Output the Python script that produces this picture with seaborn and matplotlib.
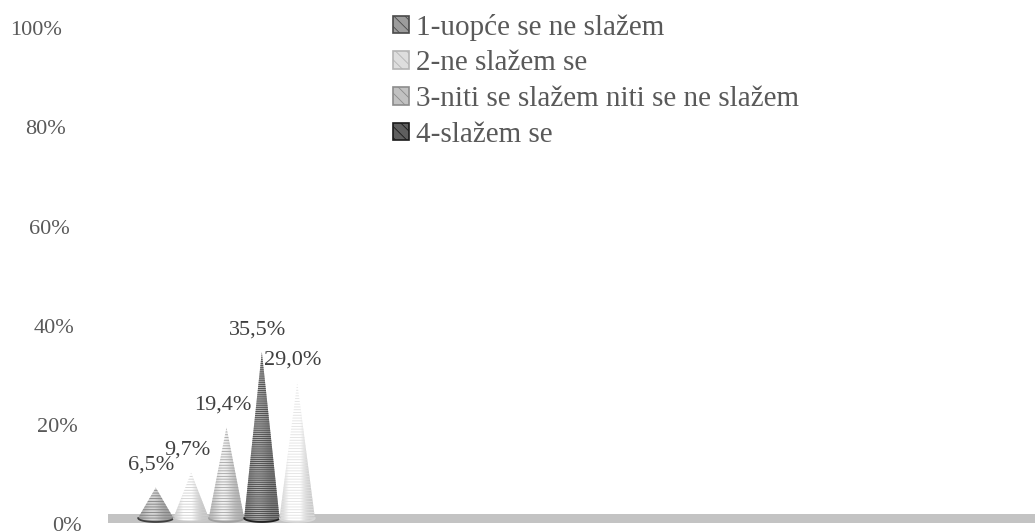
import numpy as np
import pandas as pd
import seaborn as sns
import matplotlib.pyplot as plt
from matplotlib.patches import Polygon, Patch
from matplotlib.transforms import ScaledTranslation

# -----------------------------
# Data
# -----------------------------
answers = [
    "1-uopće se ne slažem",
    "2-ne slažem se",
    "3-niti se slažem niti se ne slažem",
    "4-slažem se",
    "5-u potpunosti se slažem",
]
shares = [6.5, 9.7, 19.4, 35.5, 29.0]
y_ticks = [0, 20, 40, 60, 80, 100]

# grey tones of the cones (0 = black, 1 = white) and their stripe colours
cone_tones = [0.76, 0.95, 0.86, 0.62, 0.98]
stripe_colors = ["#808080", "#d0d0d0", "#a4a4a4", "#454545", "#e2e2e2"]
rim_colors = ["#404040", "#c8c8c8", "#a0a0a0", "#202020", "#d8d8d8"]
legend_faces = ["#9c9c9c", "#dedede", "#c2c2c2", "#5e5e5e"]
legend_edges = ["#4a4a4a", "#b4b4b4", "#8c8c8c", "#1a1a1a"]

df = pd.DataFrame({"group": [""] * len(answers), "answer": answers, "share": shares})

# -----------------------------
# Plot
# -----------------------------
sns.set_style("white")
plt.rcParams["font.family"] = ["Liberation Serif", "DejaVu Serif"]
plt.rcParams["hatch.linewidth"] = 0.6

fig = plt.figure(figsize=(10.35, 5.31), dpi=100)
rect = [108 / 1035, 0.0, 927 / 1035, 1.0]

# back wall (carries the % labels, slightly different scale than the cones)
wall = fig.add_axes(rect)
wall.set_ylim(-0.9, 106.2)
wall.axis("off")

ax = fig.add_axes(rect)
ax.patch.set_alpha(0)
sns.barplot(data=df, x="group", y="share", hue="answer", hue_order=answers,
            ax=ax, legend=False, width=0.8)
bars = [c[0] for c in ax.containers]

# floor
ax.axhspan(-1.07, 0.85, color="#c3c3c3", zorder=0.5, linewidth=0)

# turn each bar into a shaded cone
for i, bar in enumerate(bars):
    x0, w, h = bar.get_x(), bar.get_width(), bar.get_height()
    cx = x0 + w / 2
    bar.set_visible(False)

    t = np.linspace(0, 1, 60)
    arc_x = x0 + w * t
    arc_y = -0.85 * np.sqrt(np.clip(1 - (2 * t - 1) ** 2, 0, None))
    verts = [(cx, h)] + list(zip(arc_x, arc_y))

    cone = Polygon(verts, closed=True, facecolor="none", edgecolor="none", zorder=2)
    ax.add_patch(cone)
    shade = cone_tones[i] * (0.80 + 0.30 * np.exp(-((t - 0.40) / 0.28) ** 2))
    img = ax.imshow(np.clip(shade, 0, 1)[None, :], cmap="gray", vmin=0, vmax=1,
                    extent=(x0, x0 + w, -1, h), aspect="auto", zorder=2,
                    interpolation="bilinear")
    img.set_clip_path(cone)

    stripes = Polygon(verts, closed=True, facecolor="none", edgecolor=stripe_colors[i],
                      linewidth=0, hatch="------" if i != 3 else "--------", zorder=3)
    ax.add_patch(stripes)
    ax.plot(arc_x, arc_y, color=rim_colors[i], linewidth=1.3, zorder=3)

    label = f"{shares[i]:.1f}%".replace(".", ",")
    ax.annotate(label, (cx, h), xytext=(-3, 16), textcoords="offset points",
                ha="center", va="center", fontsize=16, color="#404040", zorder=5)

ax.set_xlim(-0.536, 3.658)
ax.set_ylim(-2.78, 110.7)
ax.set_xlabel("")
ax.set_ylabel("")
ax.set_xticks([])
ax.set_yticks([])
sns.despine(ax=ax, left=True, bottom=True)

# y tick labels, slanted like the 3D wall
for v in y_ticks:
    shift = ScaledTranslation(-(26 + 0.2 * v) / 100, 0, fig.dpi_scale_trans)
    wall.text(0, v, f"{v}%", transform=wall.get_yaxis_transform() + shift,
              ha="right", va="center", fontsize=16, color="#595959", clip_on=False)

# legend (only the first four entries are visible in the reference)
handles = [Patch(facecolor=f, edgecolor=e, hatch="\\\\\\", linewidth=1.2)
           for f, e in zip(legend_faces, legend_edges)]
fig.legend(handles, answers[:4], loc="upper left", bbox_to_anchor=(0.368, 0.996),
           frameon=False, fontsize=21, handlelength=0.55, handleheight=0.55,
           handletextpad=0.25, labelspacing=0.33, borderaxespad=0,
           labelcolor="#595959")

fig.savefig("out.png", dpi=100)
